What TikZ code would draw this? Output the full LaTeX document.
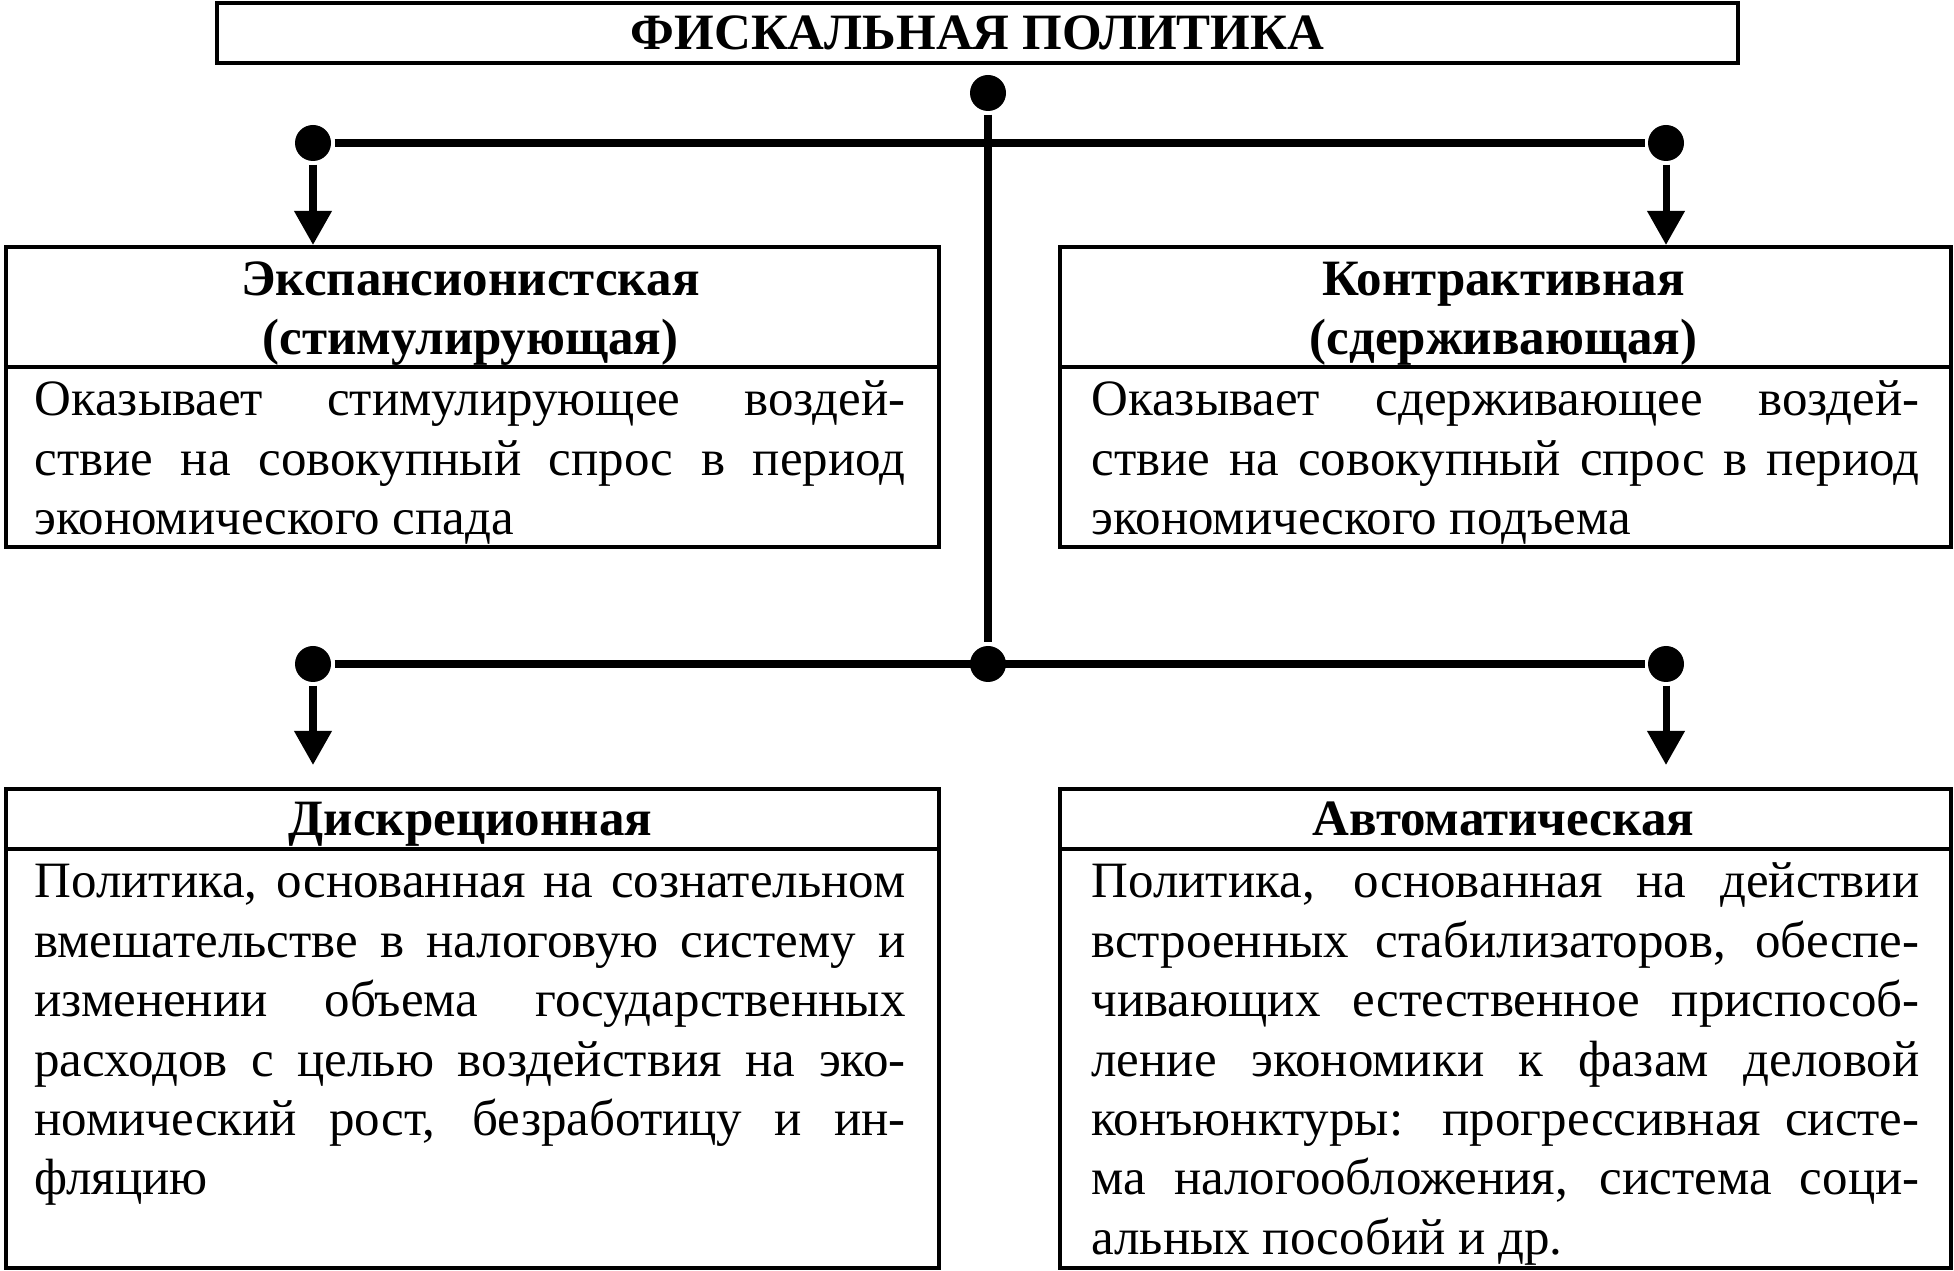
\documentclass[tikz,border=0pt]{standalone}
\usepackage{fontspec}
\setmainfont{Liberation Serif}
\usetikzlibrary{arrows.meta}
\tolerance=10000
\hbadness=10000

\begin{document}
\begin{tikzpicture}[line width=2pt,
    main box/.style={draw,rectangle,line width=1pt,inner sep=0pt,anchor=north west},
    dot/.style={circle,fill,inner sep=0pt,minimum size=0.36cm},
    head/.style={font=\fontsize{14.5}{16.9}\selectfont\bfseries,align=center,anchor=base,inner sep=0pt},
    body/.style={font=\fontsize{14.5}{16.9}\selectfont,align=justify,anchor=base west,inner sep=0pt},
    arr/.style={-{Triangle[length=0.34cm,width=0.36cm]}}]

      \useasboundingbox (0,0) rectangle (19.54,-12.71);

      \node[draw,line width=1pt,minimum width=15.21cm,minimum height=0.60cm,
            font=\fontsize{14.5}{16.9}\selectfont\bfseries] (0) at (9.775,-0.33) {\raisebox{-0.03cm}{ФИСКАЛЬНАЯ ПОЛИТИКА}};

      \node[main box,minimum width=9.33cm,minimum height=3.00cm] (1) at (0.04,-2.45) {};
      \node[main box,minimum width=8.91cm,minimum height=3.00cm] (2) at (10.58,-2.45) {};
      \node[main box,minimum width=9.33cm,minimum height=4.79cm] (3) at (0.04,-7.87) {};
      \node[main box,minimum width=8.91cm,minimum height=4.79cm] (4) at (10.58,-7.87) {};

      % header lines
      \draw[line width=1pt] ([yshift=-1.22cm]1.north west) -- ([yshift=-1.22cm]1.north east);
      \draw[line width=1pt] ([yshift=-1.22cm]2.north west) -- ([yshift=-1.22cm]2.north east);
      \draw[line width=1pt] ([yshift=-0.62cm]3.north west) -- ([yshift=-0.62cm]3.north east);
      \draw[line width=1pt] ([yshift=-0.62cm]4.north west) -- ([yshift=-0.62cm]4.north east);

      \node[dot] (d0) at (9.88,-0.93) {};
      \node[dot] (d1) at (3.13,-1.43) {};
      \node[dot] (d2) at (16.66,-1.43) {};
      \node[dot] (d3) at (3.13,-6.64) {};
      \node[dot] (d4) at (9.88,-6.64) {};
      \node[dot] (d5) at (16.66,-6.64) {};

      \draw (d0) -- (d4);
      \draw (d1) -- (d2);
      \draw (d3) -- (d5);
      \draw[arr] (d1) -- (d1 |- 1.north);
      \draw[arr] (d2) -- (d2 |- 2.north);
      \draw[arr,shorten >=0.22cm] (d3) -- (d3 |- 3.north);
      \draw[arr,shorten >=0.22cm] (d5) -- (d5 |- 4.north);

      % two-line headers sit on their last line
      \node[head] (h1) at (4.705,-3.55) {Экспансионистская\\(стимулирующая)};
      \node[head] (h2) at (15.035,-3.55) {Контрактивная\\(сдерживающая)};
      \node[head] (h3) at (4.705,-8.36) {Дискреционная};
      \node[head] (h4) at (15.035,-8.36) {Автоматическая};

      \node[body,text width=8.71cm] (b1) at (0.31,-4.16)
        {Оказывает стимулирующее воздей-\linebreak ствие на совокупный спрос в период\linebreak экономического спада};
      \node[body,text width=8.28cm] (b2) at (10.88,-4.16)
        {Оказывает сдерживающее воздей-\linebreak ствие на совокупный спрос в период\linebreak экономического подъема};
      \node[body,text width=8.71cm] (b3) at (0.31,-8.98)
        {Политика, основанная на сознательном\linebreak вмешательстве в налоговую систему и\linebreak изменении объема государственных\linebreak расходов с целью воздействия на эко-\linebreak номический рост, безработицу и ин-\linebreak фляцию};
      \node[body,text width=8.28cm] (b4) at (10.88,-8.98)
        {Политика, основанная на действии\linebreak встроенных стабилизаторов, обеспе-\linebreak чивающих естественное приспособ-\linebreak ление экономики к фазам деловой\linebreak конъюнктуры: прогрессивная систе-\linebreak ма налогообложения, система соци-\linebreak альных пособий и др.};

\end{tikzpicture}
\end{document}
